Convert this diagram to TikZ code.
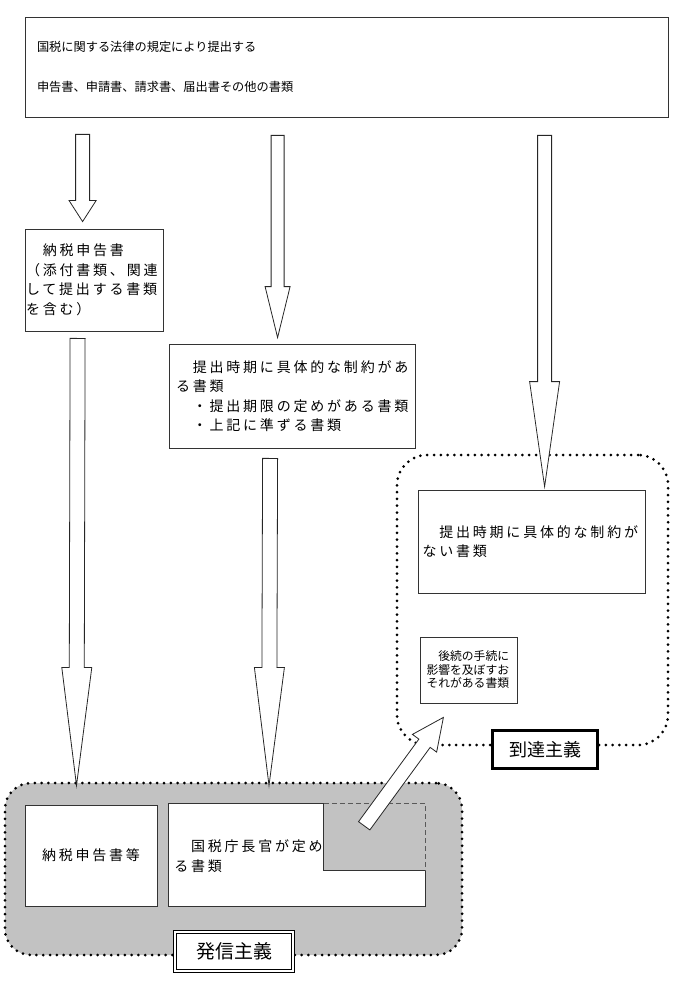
\documentclass[tikz,border=0pt]{standalone}
\usepackage{fontspec}
\setmainfont{Noto Sans CJK JP}
\newfontfamily\jpsp[LetterSpace=20]{Noto Sans CJK JP}
\usetikzlibrary{calc}

\tikzset{
  box/.style = {draw=black!80, line width=0.8pt, fill=white, inner sep=0pt},
  txt/.style = {align=left, font={\jpsp\fontsize{14}{19.5}\selectfont}},
  region/.style = {draw=black, line width=3pt, line cap=round, dash pattern=on 0pt off 6.8pt},
  blockarr/.style = {draw=black!85, line width=0.8pt, fill=white, line join=miter}
}

% tail, tip, shaft half width, head half width, head length
\newcommand\blockarrow[5]{%
  \coordinate (ah) at ($(#2)!#5!(#1)$);
  \draw[blockarr] ($(#1)!#3!90:(#2)$) -- ($(ah)!#3!90:(#2)$) -- ($(ah)!#4!90:(#2)$) -- (#2)
    -- ($(ah)!#4!-90:(#2)$) -- ($(ah)!#3!-90:(#2)$) -- ($(#1)!#3!-90:(#2)$) -- cycle;
}

\begin{document}
\begin{tikzpicture}[x=1pt, y=-1pt]
	\useasboundingbox (0,0) rectangle (680,1000);

	% regions
	\node[region, minimum width=271pt, minimum height=290pt, rounded corners=30pt] (toutatsu) at (532.5,600) {};
	\node[region, fill=black!24, minimum width=457pt, minimum height=172pt, rounded corners=26pt] (hasshin) at (233.5,869) {};

	% boxes
	\node[box, minimum width=643pt, minimum height=100pt, align=left, text width=619pt,
		font={\fontsize{12.2}{40}\selectfont}] (src) at (346.5,67)
		{国税に関する法律の規定により提出する\\申告書、申請書、請求書、届出書その他の書類};
	\node[box, txt, minimum width=138pt, minimum height=102pt, text width=136pt] (nzk) at (94,280)
		{　納税申告書\\（添付書類、関連\\して提出する書類\\を含む）};
	\node[box, txt, minimum width=246pt, minimum height=104pt, text width=232pt] (seiyaku) at (292,396)
		{　提出時期に具体的な制約があ\\る書類\\　・提出期限の定めがある書類\\　・上記に準ずる書類};
	\node[box, txt, minimum width=227pt, minimum height=103pt, text width=218pt] (nashi) at (531.5,541.5)
		{　提出時期に具体的な制約が\\ない書類};
	\node[box, align=left, minimum width=97pt, minimum height=66pt, text width=84pt,
		font={\fontsize{11.8}{13.5}\selectfont}] (eikyo) at (468.5,670)
		{　後続の手続に\\影響を及ぼすお\\それがある書類};

	\node[box, txt, minimum width=132pt, minimum height=101pt, align=center] (nzt) at (91,855.5) {納税申告書等};
	\node[minimum width=256pt, minimum height=102pt, inner sep=0pt] (kzc) at (297,855) {};
	\fill[white] (kzc.north west) -- ++(155,0) -- ++(0,67) -| (kzc.south east) -- (kzc.south west) -- cycle;
	\draw[black!80, line width=0.8pt] (kzc.north west) -- ++(155,0) -- ++(0,67) -| (kzc.south east) -- (kzc.south west) -- cycle;
	\draw[black!65, line width=1pt, dash pattern=on 5pt off 3pt] ($(kzc.north west)+(155,0)$) -| ($(kzc.north east)+(0,67)$);
	\node[txt, text width=147pt, inner sep=0pt] (kzctxt) at ($(kzc.west)+(79,1)$) {　国税庁長官が定め\\る書類};

	% arrows
	\coordinate (a1t) at ($(src.south west)+(58,17)$);
	\coordinate (a1h) at ($(nzk.north west)+(58,-7)$);
	\blockarrow{a1t}{a1h}{7pt}{13.5pt}{21pt}
	\coordinate (a2t) at ($(src.south west)+(253,18)$);
	\coordinate (a2h) at ($(seiyaku.north west)+(109,-6)$);
	\blockarrow{a2t}{a2h}{6.5pt}{12.5pt}{51pt}
	\coordinate (a3t) at ($(nzk.south west)+(53,7)$);
	\coordinate (a3h) at ($(hasshin.north west)+(73,4)$);
	\blockarrow{a3t}{a3h}{7.5pt}{15pt}{118pt}
	\coordinate (a4t) at ($(seiyaku.south west)+(101.5,10)$);
	\coordinate (a4h) at ($(hasshin.north west)+(265.5,4)$);
	\blockarrow{a4t}{a4h}{7.5pt}{15pt}{118pt}
	\coordinate (a5t) at ($(src.south west)+(520,18)$);
	\coordinate (a5h) at ($(nashi.north west)+(127,-3)$);
	\blockarrow{a5t}{a5h}{7pt}{15pt}{105pt}
	\coordinate (a6t) at ($(kzc.north east)+(-61,22)$);
	\coordinate (a6h) at ($(eikyo.south east)+(-74,14)$);
	\blockarrow{a6t}{a6h}{7pt}{15pt}{32pt}

	% labels
	\node[draw=black, line width=3pt, fill=white, minimum width=105pt, minimum height=38pt,
		font=\fontsize{18}{18}\selectfont] (ttl) at (545,749.5) {到達主義};
	\node[draw=black, line width=1.3pt, double=white, double distance=1.6pt, fill=white, minimum width=118pt,
		minimum height=39pt, font=\fontsize{19}{19}\selectfont] (hsl) at (234,951.5) {発信主義};
\end{tikzpicture}
\end{document}
